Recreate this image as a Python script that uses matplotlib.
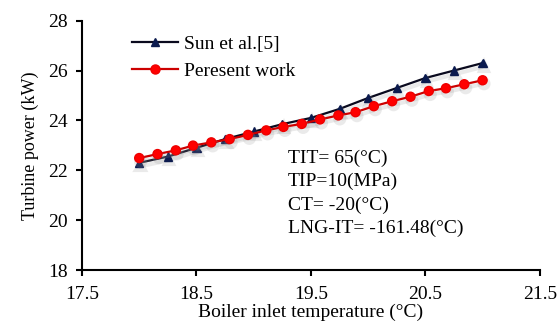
import matplotlib
matplotlib.use("Agg")
import matplotlib.pyplot as plt
import matplotlib.patheffects as pe
from matplotlib.lines import Line2D

# Boiler inlet temperature (°C) and turbine power (kW)
sun_x = [18.0, 18.25, 18.5, 18.75, 19.0, 19.25, 19.5, 19.75, 20.0, 20.25, 20.5, 20.75, 21.0]
sun_y = [22.3, 22.55, 22.9, 23.25, 23.55, 23.85, 24.1, 24.46, 24.9, 25.3, 25.7, 26.0, 26.3]

work_x = [18.0, 18.16, 18.32, 18.47, 18.63, 18.79, 18.95, 19.11, 19.26, 19.42,
          19.58, 19.74, 19.89, 20.05, 20.21, 20.37, 20.53, 20.68, 20.84, 21.0]
work_y = [22.49, 22.65, 22.80, 22.99, 23.12, 23.25, 23.42, 23.60, 23.74, 23.86,
          24.04, 24.20, 24.33, 24.57, 24.77, 24.95, 25.18, 25.29, 25.45, 25.61]

x_ticks = [17.5, 18.5, 19.5, 20.5, 21.5]
x_tick_labels = ["17.5", "18.5", "19.5", "20.5", "21.5"]
y_ticks = [18, 20, 22, 24, 26, 28]

conditions = ["TIT= 65(°C)", "TIP=10(MPa)", "CT= -20(°C)", "LNG-IT= -161.48(°C)"]

plt.rcParams["font.family"] = ["Liberation Serif", "DejaVu Serif"]
fs = 14

fig = plt.figure(figsize=(5.6, 3.23), dpi=100)
ax = fig.add_axes([0.1464, 0.164, 0.8176, 0.772])

shadow = [pe.SimpleLineShadow(offset=(1.0, -2.5), shadow_color="#999999", alpha=0.2, linewidth=3),
          pe.Normal()]

sun_style = dict(color="#0a0a1e", lw=1.6, marker="^", ms=6, mfc="#0b1a4e", mec="#0b1a4e")
work_style = dict(color="#cc0000", lw=1.6, marker="o", ms=6.5, mfc="#ff0000", mec="#ee0000")

ax.plot(sun_x, sun_y, path_effects=shadow, **sun_style)
ax.plot(work_x, work_y, path_effects=shadow, **work_style)

ax.set_xlim(17.5, 21.5)
ax.set_ylim(18, 28)
ax.set_xticks(x_ticks)
ax.set_xticklabels(x_tick_labels)
ax.set_yticks(y_ticks)

for side in ("top", "right"):
    ax.spines[side].set_visible(False)
for side in ("left", "bottom"):
    ax.spines[side].set_linewidth(1.5)
ax.tick_params(direction="out", length=4, width=1.5, labelsize=fs)
ax.tick_params(axis="x", pad=7.5)
ax.tick_params(axis="y", pad=6)

ax.set_xlabel("Boiler inlet temperature (°C)", fontsize=fs, labelpad=0.5)
ax.set_ylabel("Turbine power (kW)", fontsize=13, labelpad=7)

handles = [Line2D([], [], **sun_style), Line2D([], [], **work_style)]
ax.legend(handles, ["Sun et al.[5]", "Peresent work"], loc="upper left",
          bbox_to_anchor=(0.07, 1.01), frameon=False, fontsize=fs,
          handlelength=2.4, handletextpad=0.3, labelspacing=0.45)

for i, line in enumerate(conditions):
    ax.text(19.3, 22.47 - i * 0.93, line, fontsize=fs, va="center", ha="left")

fig.savefig("out.png", dpi=100)
